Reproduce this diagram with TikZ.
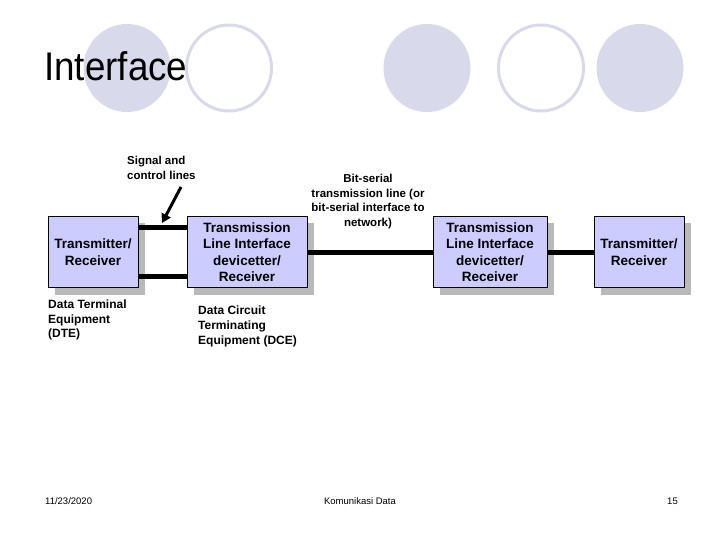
\documentclass[tikz,border=0pt]{standalone}
\usepackage{fontspec}
\setmainfont{Liberation Sans}
\newfontfamily\titlefont[FakeStretch=0.92]{Liberation Sans}
\usetikzlibrary{arrows.meta,shadows}
\definecolor{boxfill}{RGB}{204,204,255}
\definecolor{circfill}{RGB}{217,217,236}
\definecolor{shadowgray}{RGB}{185,185,185}
\tikzset{
  blockbox/.style={draw=black, line width=0.8pt, fill=boxfill, minimum height=71pt,
    align=center, inner sep=2pt, font=\fontsize{13.5}{16.5}\selectfont\bfseries,
    drop shadow={shadow xshift=7pt, shadow yshift=-7pt, fill=shadowgray, opacity=1}},
  wire/.style={line width=5pt, black},
  label/.style={font=\fontsize{11.5}{14.5}\selectfont\bfseries, inner sep=0pt},
  deco/.style={fill=circfill, draw=none},
  decoring/.style={draw=circfill, line width=3pt, fill=none},
  foot/.style={font=\fontsize{9.5}{11}\selectfont, inner sep=0pt, anchor=base}
}
\begin{document}
\begin{tikzpicture}[x=1pt,y=-1pt]
\useasboundingbox (0,0) rectangle (720,540);
\fill[white] (0,0) rectangle (720,540);
% decorative circles
\fill[deco] (127,68) ellipse [x radius=43.5, y radius=44];
\draw[decoring] (229,68) ellipse [x radius=42.5, y radius=43];
\fill[deco] (427,68) ellipse [x radius=43.5, y radius=44];
\draw[decoring] (541,68) ellipse [x radius=42.5, y radius=43];
\fill[deco] (640,68) ellipse [x radius=43.5, y radius=44];
% title
\node[anchor=base west, inner sep=0pt, font=\titlefont\fontsize{40}{40}\selectfont] (title) at (44,81) {Interface};
% boxes
\node[blockbox, minimum width=90pt] (A) at (93,252) {Transmitter/\\Receiver};
\node[blockbox, minimum width=120pt] (B) at (247,252) {Transmission\\Line Interface\\devicetter/\\Receiver};
\node[blockbox, minimum width=114pt] (C) at (490,252) {Transmission\\Line Interface\\devicetter/\\Receiver};
\node[blockbox, minimum width=90pt] (D) at (639,252) {Transmitter/\\Receiver};
% wires
\draw[wire] ([yshift=24.5pt]A.east) -- ([yshift=24.5pt]A.east -| B.west);
\draw[wire] ([yshift=-24.5pt]A.east) -- ([yshift=-24.5pt]A.east -| B.west);
\draw[wire] (B.east) -- (C.west);
\draw[wire] (C.east) -- (D.west);
% labels
\node[label, anchor=north west, align=left] (sig) at (127,156) {Signal and\\control lines};
\coordinate (arrS) at (181,187);
\coordinate (arrE) at (162,223);
\draw[line width=3pt, -{Triangle[length=9pt,width=10pt]}] (arrS) -- (arrE);
\node[label, anchor=north, align=center] (bit) at (368,174) {Bit-serial\\transmission line (or\\bit-serial interface to\\network)};
\node[label, anchor=north west, align=left, font=\fontsize{12}{14.5}\selectfont\bfseries] (dte) at (48,300) {Data Terminal\\Equipment\\(DTE)};
\node[label, anchor=north west, align=left, font=\fontsize{12}{15}\selectfont\bfseries] (dce) at (198,306) {Data Circuit\\Terminating\\Equipment (DCE)};
% footer
\node[foot, anchor=base west] (date) at (45,504) {11/23/2020};
\node[foot] (course) at (360,504) {Komunikasi Data};
\node[foot, anchor=base east] (page) at (678,504) {15};
\end{tikzpicture}
\end{document}
